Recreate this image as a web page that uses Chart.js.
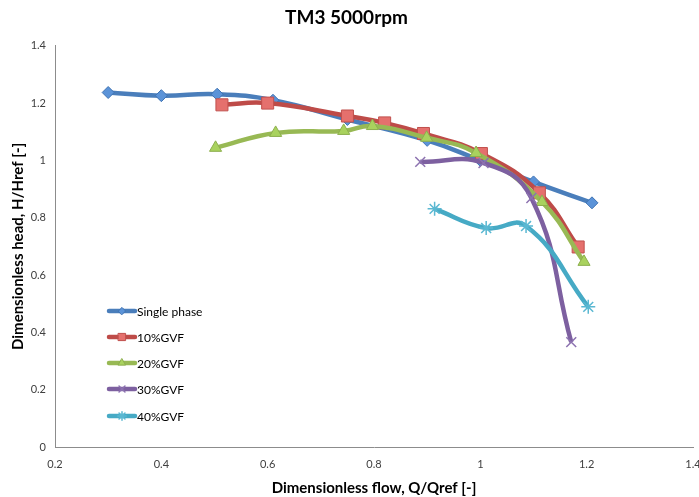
<!DOCTYPE html>
<html>
<head>
<meta charset="utf-8">
<title>TM3 5000rpm</title>
<script src="https://cdn.jsdelivr.net/npm/chart.js@4.4.1/dist/chart.umd.min.js"></script>
<style>
    html, body { margin: 0; padding: 0; background: #ffffff; }
    #wrap { width: 699px; height: 497px; }
</style>
</head>
<body>
<div id="wrap"><canvas id="chart" width="699" height="497"></canvas></div>
<script>
// Datos (Q/Qref, H/Href)
const singleQ = [0.30, 0.40, 0.505, 0.61, 0.75, 0.90, 1.00, 1.10, 1.21];
const singleH = [1.237, 1.226, 1.231, 1.21, 1.143, 1.07, 1.00, 0.925, 0.852];

const gvf10Q = [0.514, 0.60, 0.75, 0.82, 0.893, 1.002, 1.111, 1.184];
const gvf10H = [1.194, 1.20, 1.155, 1.131, 1.094, 1.024, 0.887, 0.698];

const gvf20Q = [0.502, 0.615, 0.743, 0.797, 0.899, 0.992, 1.116, 1.195];
const gvf20H = [1.044, 1.096, 1.103, 1.120, 1.079, 1.026, 0.855, 0.646];

const gvf30Q = [0.887, 1.006, 1.096, 1.171];
const gvf30H = [0.995, 0.991, 0.869, 0.366];

const gvf40Q = [0.914, 1.011, 1.086, 1.203];
const gvf40H = [0.831, 0.764, 0.771, 0.489];

const seriesNames = ['Single phase', '10%GVF', '20%GVF', '30%GVF', '40%GVF'];
const xTicks = [0.2, 0.4, 0.6, 0.8, 1.0, 1.2, 1.4];
const yTicks = [0, 0.2, 0.4, 0.6, 0.8, 1.0, 1.2, 1.4];

const FONT = 'Lato, "Open Sans", sans-serif';

const toPoints = (qs, hs) => qs.map((q, i) => ({ x: q, y: hs[i] }));

// Estilos de cada serie
const styles = [
    { line: '#4A7EBB', fill: '#5B93D8', border: '#3F73B3', point: 'rectRot', r: 6, pw: 1 },
    { line: '#BE4B48', fill: '#E5706D', border: '#C0504D', point: 'rect', r: 8.5, pw: 1 },
    { line: '#98B954', fill: '#A9D25E', border: '#8DAF4E', point: 'triangle', r: 7, pw: 1 },
    { line: '#7D60A0', fill: '#7D60A0', border: '#8C72B0', point: 'crossRot', r: 7, pw: 1.5 },
    { line: '#46AAC5', fill: '#46AAC5', border: '#5AB8D2', point: 'star', r: 7, pw: 1.5 }
];

const seriesData = [
    toPoints(singleQ, singleH),
    toPoints(gvf10Q, gvf10H),
    toPoints(gvf20Q, gvf20H),
    toPoints(gvf30Q, gvf30H),
    toPoints(gvf40Q, gvf40H)
];

const datasets = seriesData.map((data, i) => ({
    label: seriesNames[i],
    data: data,
    borderColor: styles[i].line,
    borderWidth: 4.5,
    tension: 0.45,
    pointStyle: styles[i].point,
    pointRadius: styles[i].r,
    pointBackgroundColor: styles[i].fill,
    pointBorderColor: styles[i].border,
    pointBorderWidth: styles[i].pw,
    // la primera serie queda debajo
    order: 5 - i
}));

// Leyenda dibujada dentro del área del gráfico
const insideLegend = {
    id: 'insideLegend',
    afterDraw(chart) {
        const ctx = chart.ctx;
        const x0 = 109, x1 = 135;
        const ys = [311, 337, 363, 389, 416];
        ctx.save();
        ctx.font = '12px ' + FONT;
        ctx.textBaseline = 'middle';
        seriesNames.forEach((name, i) => {
            const st = styles[i];
            ctx.strokeStyle = st.line;
            ctx.lineWidth = 4.5;
            ctx.lineCap = 'round';
            ctx.beginPath();
            ctx.moveTo(x0, ys[i]);
            ctx.lineTo(x1, ys[i]);
            ctx.stroke();
            if (Chart.helpers && Chart.helpers.drawPoint) {
                ctx.fillStyle = st.fill;
                ctx.strokeStyle = st.border;
                ctx.lineWidth = st.pw;
                Chart.helpers.drawPoint(ctx, {
                    pointStyle: st.point,
                    radius: st.r * 0.6,
                    borderWidth: st.pw,
                    rotation: 0
                }, (x0 + x1) / 2, ys[i]);
            }
            ctx.fillStyle = '#000';
            ctx.fillText(name, x1 + 2, ys[i] + 1);
        });
        ctx.restore();
    }
};

const fmt = v => String(Math.round(v * 10) / 10);

new Chart(document.getElementById('chart').getContext('2d'), {
    type: 'line',
    data: { datasets: datasets },
    options: {
        responsive: false,
        animation: false,
        layout: { autoPadding: false, padding: { left: 0, right: 6, top: 0, bottom: 0 } },
        plugins: {
            legend: { display: false },
            tooltip: { enabled: false },
            title: {
                display: true,
                text: 'TM3 5000rpm',
                color: '#000',
                font: { family: FONT, size: 19, weight: 'bold' },
                padding: { top: 6, bottom: 17 }
            }
        },
        scales: {
            x: {
                type: 'linear',
                min: 0.2,
                max: 1.4,
                afterBuildTicks: s => { s.ticks = xTicks.map(v => ({ value: v })); },
                afterFit: s => { s.height = 50; s.paddingLeft = 0; s.paddingRight = 0; },
                grid: { display: false, drawTicks: false },
                border: { display: true, color: '#8C8C8C', width: 1 },
                ticks: {
                    callback: fmt,
                    color: '#404040',
                    padding: 11,
                    maxRotation: 0,
                    font: { family: FONT, size: 11 }
                },
                title: {
                    display: true,
                    text: 'Dimensionless flow, Q/Qref [-]',
                    color: '#000',
                    font: { family: FONT, size: 15, weight: 'bold' },
                    padding: { top: 4, bottom: 0 }
                }
            },
            y: {
                min: 0,
                max: 1.4,
                afterBuildTicks: s => { s.ticks = yTicks.map(v => ({ value: v })); },
                afterFit: s => { s.width = 55; },
                grid: { display: false, drawTicks: false },
                border: { display: true, color: '#8C8C8C', width: 1 },
                ticks: {
                    callback: fmt,
                    color: '#404040',
                    padding: 9,
                    font: { family: FONT, size: 11 }
                },
                title: {
                    display: true,
                    text: 'Dimensionless head, H/Href [-]',
                    color: '#000',
                    font: { family: FONT, size: 15, weight: 'bold' },
                    padding: { top: 9, bottom: 0 }
                }
            }
        }
    },
    plugins: [insideLegend]
});
</script>
</body>
</html>
